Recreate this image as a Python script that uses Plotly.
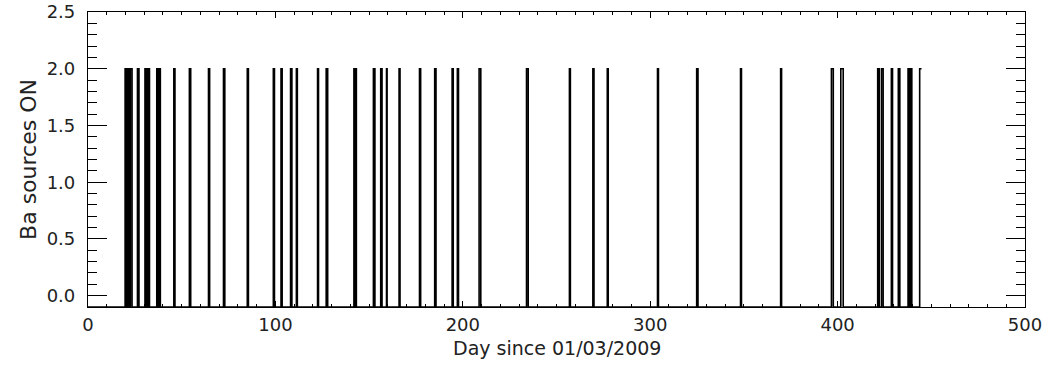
import plotly.graph_objects as go

# Source ON intervals (day since 01/03/2009)
on_days = [19.8, 21.2, 22.6, 26.4, 30.4, 31.4, 32.2, 36.7, 37.8, 45.8, 54.1, 64.3, 72.3,
           85.0, 98.9, 103.0, 108.1, 111.2, 122.5, 127.1, 141.9, 142.7, 152.3, 156.2,
           159.3, 166.0, 176.9, 185.0, 194.3, 197.1, 208.7, 234.0, 256.9, 269.4, 277.1,
           303.9, 324.8, 348.2, 369.6, 396.7, 401.7, 421.4, 423.4, 428.7, 432.4, 437.6,
           438.9, 443.8]
off_days = [20.6, 22.0, 23.5, 27.2, 31.0, 31.9, 32.8, 37.3, 38.6, 46.4, 54.8, 64.9, 73.0,
            85.6, 99.5, 103.6, 108.8, 111.7, 123.0, 127.9, 142.2, 143.2, 153.1, 156.9,
            159.6, 166.5, 177.5, 185.7, 194.9, 197.7, 209.6, 234.9, 257.4, 270.0, 277.6,
            304.4, 325.5, 348.7, 370.1, 397.7, 403.0, 422.2, 424.3, 429.3, 433.2, 438.3,
            439.6, 444.8]
on_level = 2.0
off_level = -0.1
start_day = 0.0

x_tick_vals = [0, 100, 200, 300, 400, 500]
y_tick_vals = [0.0, 0.5, 1.0, 1.5, 2.0, 2.5]
x_title = "Day since 01/03/2009"
y_title = "Ba sources ON"

xs = [start_day]
ys = [off_level]
n = len(on_days)
for i, (a, b) in enumerate(zip(on_days, off_days)):
    xs += [a, a, b]
    ys += [off_level, on_level, on_level]
    if i < n - 1:
        xs.append(b)
        ys.append(off_level)

fig = go.Figure()
fig.add_trace(go.Scatter(x=xs, y=ys, mode="lines",
                         line=dict(color="black", width=1.6), showlegend=False))

fig.update_layout(
    width=1059, height=366,
    margin=dict(l=88, r=34, t=12, b=59),
    paper_bgcolor="white", plot_bgcolor="white",
    font=dict(family="DejaVu Sans", size=18, color="#222222"),
    xaxis=dict(range=[0, 500], tickvals=x_tick_vals, ticks="inside", ticklen=6,
               tickcolor="black", showline=True, linecolor="black", linewidth=1.2,
               mirror="allticks", showgrid=False, zeroline=False, automargin=False,
               ticklabelstandoff=1, ticklabeloverflow="allow",
               minor=dict(dtick=10, tick0=0, ticks="inside", ticklen=3, tickcolor="black")),
    yaxis=dict(range=[-0.1, 2.5], tickvals=y_tick_vals, tickformat=".1f", ticks="inside",
               ticklen=19, tickcolor="black", showline=True, linecolor="black", linewidth=1.2,
               mirror="allticks", showgrid=False, zeroline=False, automargin=False,
               ticklabelstandoff=8, ticklabeloverflow="allow",
               minor=dict(dtick=0.1, tick0=0, ticks="inside", ticklen=9, tickcolor="black"),
               title=dict(text=y_title, standoff=3)),
    annotations=[dict(text=x_title, xref="paper", yref="paper", x=0.5, y=0,
                      xanchor="center", yanchor="middle", yshift=-41, showarrow=False,
                      font=dict(family="DejaVu Sans", size=19, color="#222222"))],
)
fig.write_html("out.html", config={"displayModeBar": False},
               post_script="document.body.style.margin='0';")
